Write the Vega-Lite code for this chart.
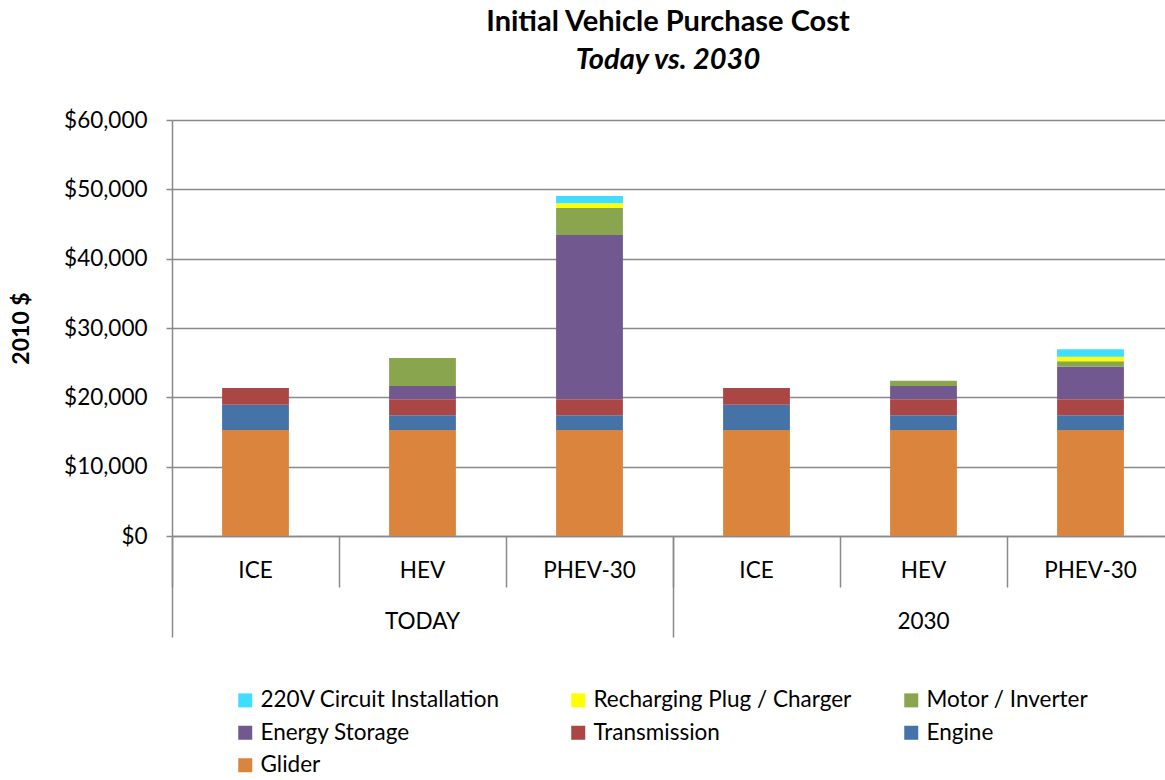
{
  "$schema": "https://vega.github.io/schema/vega-lite/v6.json",
  "width": 992,
  "height": 416,
  "autosize": {"type": "none"},
  "padding": {"left": 172, "top": 120, "right": 1, "bottom": 244},
  "background": "white",
  "config": {
    "view": {"stroke": null},
    "font": "Lato",
    "axis": {"labelFont": "Lato", "titleFont": "Lato", "labelColor": "#000000", "titleColor": "#000000"}
  },
  "title": {
    "text": "Initial Vehicle Purchase Cost",
    "subtitle": "Today vs. 2030",
    "anchor": "middle",
    "frame": "group",
    "font": "Lato",
    "fontSize": 29,
    "fontWeight": "bold",
    "color": "#000000",
    "subtitleFont": "Lato",
    "subtitleFontSize": 29,
    "subtitleFontWeight": "bold",
    "subtitleFontStyle": "italic",
    "subtitleColor": "#000000",
    "subtitlePadding": 9,
    "offset": 34
  },
  "layer": [
    {
      "data": {
        "values": [
          {"period": "TODAY", "vehicle": "ICE", "component": "Glider", "cost": 15300},
          {"period": "TODAY", "vehicle": "ICE", "component": "Engine", "cost": 3630},
          {"period": "TODAY", "vehicle": "ICE", "component": "Transmission", "cost": 2410},
          {"period": "TODAY", "vehicle": "HEV", "component": "Glider", "cost": 15300},
          {"period": "TODAY", "vehicle": "HEV", "component": "Engine", "cost": 2100},
          {"period": "TODAY", "vehicle": "HEV", "component": "Transmission", "cost": 2310},
          {"period": "TODAY", "vehicle": "HEV", "component": "Energy Storage", "cost": 1920},
          {"period": "TODAY", "vehicle": "HEV", "component": "Motor / Inverter", "cost": 4040},
          {"period": "TODAY", "vehicle": "PHEV-30", "component": "Glider", "cost": 15300},
          {"period": "TODAY", "vehicle": "PHEV-30", "component": "Engine", "cost": 2100},
          {"period": "TODAY", "vehicle": "PHEV-30", "component": "Transmission", "cost": 2310},
          {"period": "TODAY", "vehicle": "PHEV-30", "component": "Energy Storage", "cost": 23710},
          {"period": "TODAY", "vehicle": "PHEV-30", "component": "Motor / Inverter", "cost": 3890},
          {"period": "TODAY", "vehicle": "PHEV-30", "component": "Recharging Plug / Charger", "cost": 680},
          {"period": "TODAY", "vehicle": "PHEV-30", "component": "220V Circuit Installation", "cost": 1060},
          {"period": "2030", "vehicle": "ICE", "component": "Glider", "cost": 15300},
          {"period": "2030", "vehicle": "ICE", "component": "Engine", "cost": 3630},
          {"period": "2030", "vehicle": "ICE", "component": "Transmission", "cost": 2410},
          {"period": "2030", "vehicle": "HEV", "component": "Glider", "cost": 15300},
          {"period": "2030", "vehicle": "HEV", "component": "Engine", "cost": 2100},
          {"period": "2030", "vehicle": "HEV", "component": "Transmission", "cost": 2310},
          {"period": "2030", "vehicle": "HEV", "component": "Energy Storage", "cost": 1920},
          {"period": "2030", "vehicle": "HEV", "component": "Motor / Inverter", "cost": 770},
          {"period": "2030", "vehicle": "PHEV-30", "component": "Glider", "cost": 15300},
          {"period": "2030", "vehicle": "PHEV-30", "component": "Engine", "cost": 2100},
          {"period": "2030", "vehicle": "PHEV-30", "component": "Transmission", "cost": 2310},
          {"period": "2030", "vehicle": "PHEV-30", "component": "Energy Storage", "cost": 4710},
          {"period": "2030", "vehicle": "PHEV-30", "component": "Motor / Inverter", "cost": 770},
          {"period": "2030", "vehicle": "PHEV-30", "component": "Recharging Plug / Charger", "cost": 670},
          {"period": "2030", "vehicle": "PHEV-30", "component": "220V Circuit Installation", "cost": 1070}
        ]
      },
      "transform": [
        {"calculate": "datum.period + '|' + datum.vehicle", "as": "key"},
        {"calculate": "indexof(['Glider','Engine','Transmission','Energy Storage','Motor / Inverter','Recharging Plug / Charger','220V Circuit Installation'], datum.component)", "as": "stackOrder"}
      ],
      "mark": {"type": "bar", "width": {"band": 0.4}},
      "encoding": {
        "x": {
          "field": "key",
          "type": "nominal",
          "scale": {
            "type": "band",
            "domain": ["TODAY|ICE", "TODAY|HEV", "TODAY|PHEV-30", "2030|ICE", "2030|HEV", "2030|PHEV-30"],
            "range": [0, 1002],
            "paddingInner": 0,
            "paddingOuter": 0
          },
          "axis": {
            "title": null,
            "orient": "bottom",
            "labelExpr": "split(datum.label, '|')[1]",
            "bandPosition": 0,
            "grid": false,
            "tickSize": 51,
            "tickColor": "#898989",
            "tickWidth": 1.5,
            "domainColor": "#898989",
            "domainWidth": 1.5,
            "labelPadding": -17,
            "labelBaseline": "middle",
            "labelAngle": 0,
            "labelFontSize": 22.5
          }
        },
        "y": {
          "field": "cost",
          "type": "quantitative",
          "stack": "zero",
          "scale": {"domain": [0, 60000], "nice": false},
          "axis": {
            "title": "2010 $",
            "titleFontSize": 23,
            "titleFontWeight": "bold",
            "titleAngle": -90,
            "titleX": -151,
            "titleY": 208,
            "titleAlign": "center",
            "titleBaseline": "middle",
            "values": [0, 10000, 20000, 30000, 40000, 50000, 60000],
            "format": "$,.0f",
            "labelFontSize": 22.5,
            "labelPadding": 19,
            "tickSize": 6,
            "tickColor": "#898989",
            "tickWidth": 1.5,
            "domainColor": "#898989",
            "domainWidth": 1.5,
            "grid": true,
            "gridColor": "#898989",
            "gridWidth": 1.5
          }
        },
        "color": {
          "field": "component",
          "type": "nominal",
          "scale": {
            "domain": ["220V Circuit Installation", "Recharging Plug / Charger", "Motor / Inverter", "Energy Storage", "Transmission", "Engine", "Glider"],
            "range": ["#3FDDFF", "#FFFF00", "#89A54E", "#71588F", "#AA4644", "#4572A7", "#DB843D"]
          },
          "legend": {
            "title": null,
            "orient": "none",
            "legendX": 62,
            "legendY": 569,
            "direction": "horizontal",
            "columns": 3,
            "gridAlign": "all",
            "columnPadding": 48,
            "rowPadding": 9.5,
            "symbolType": "square",
            "symbolSize": 196,
            "symbolStrokeWidth": 0,
            "symbolOpacity": 1,
            "labelFont": "Lato",
            "labelFontSize": 22.5,
            "labelColor": "#000000",
            "labelOffset": 4,
            "labelLimit": 400
          }
        },
        "order": {"field": "stackOrder", "type": "quantitative", "sort": "ascending"}
      }
    },
    {
      "data": {"values": [{"period": "TODAY"}, {"period": "2030"}]},
      "mark": {"type": "point", "opacity": 0},
      "encoding": {
        "x": {
          "field": "period",
          "type": "nominal",
          "scale": {"type": "band", "domain": ["TODAY", "2030"], "range": [0, 1002], "paddingInner": 0, "paddingOuter": 0},
          "axis": {
            "title": null,
            "orient": "bottom",
            "bandPosition": 0,
            "domain": false,
            "grid": false,
            "tickSize": 101,
            "tickColor": "#898989",
            "tickWidth": 1.5,
            "labelPadding": -16,
            "labelBaseline": "middle",
            "labelAngle": 0,
            "labelFontSize": 22.5
          }
        }
      }
    }
  ],
  "resolve": {"scale": {"x": "independent"}, "axis": {"x": "independent"}}
}
